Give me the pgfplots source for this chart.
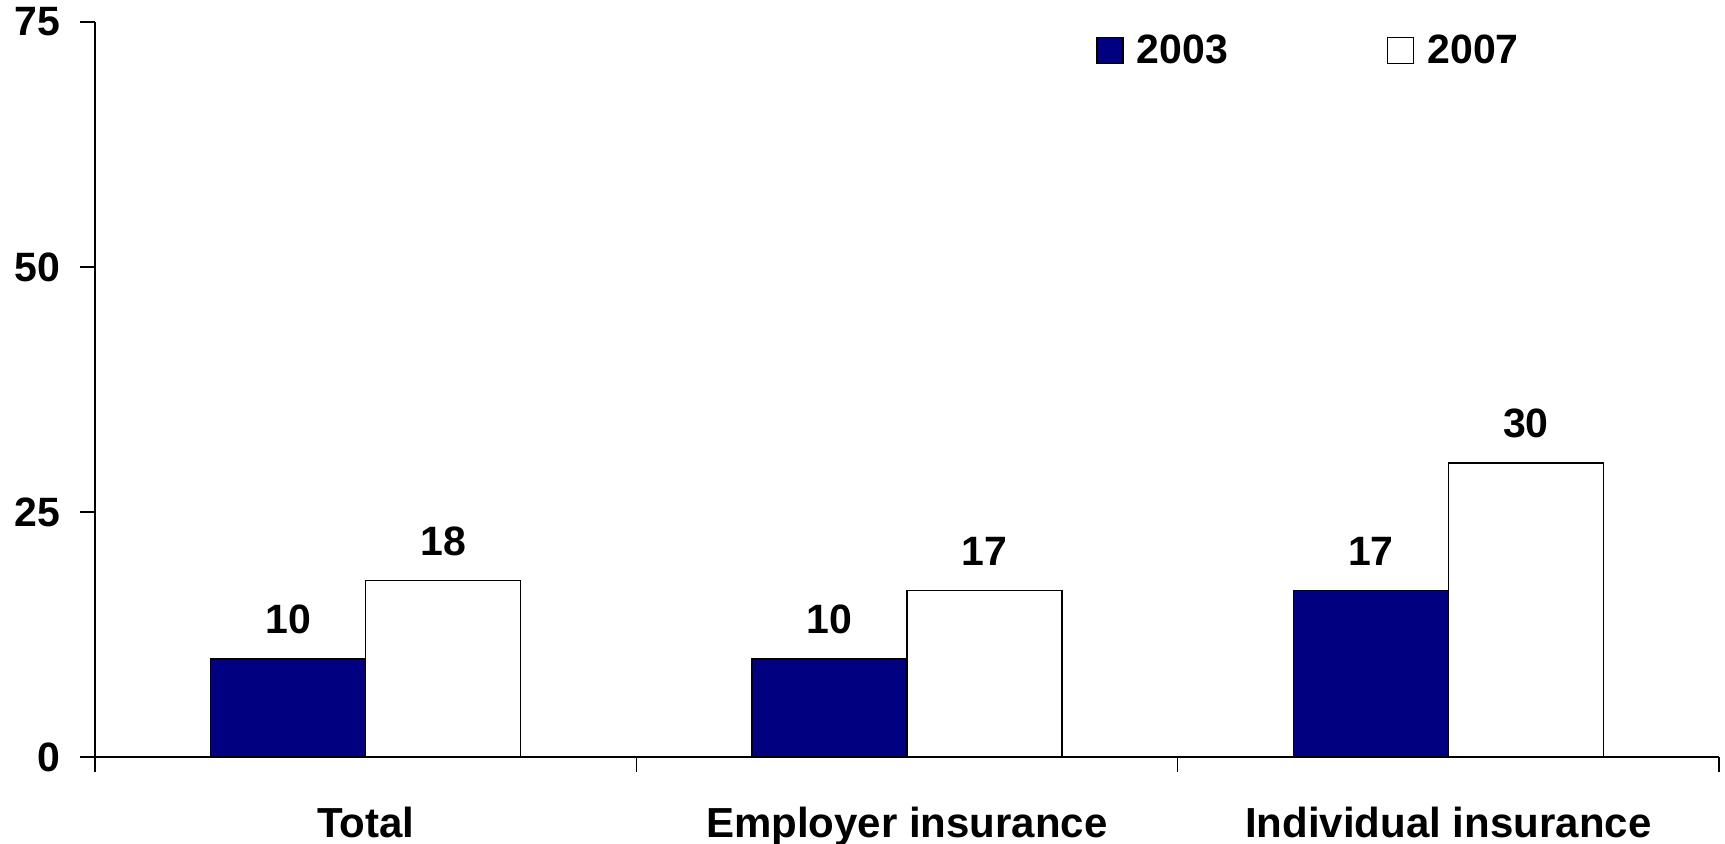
\documentclass[border=0pt]{standalone}
\usepackage{fontspec}
\setmainfont{Liberation Sans}
\usepackage{pgfplots}
\pgfplotsset{compat=1.18}
\definecolor{navybar}{RGB}{0,0,128}

\begin{document}
\begin{tikzpicture}[font=\bfseries\fontsize{20.5}{24}\selectfont]
\begin{axis}[
  scale only axis, width=812pt, height=367.5pt,
  ymin=0, ymax=75, ytick={0,25,50,75},
  xmin=-0.5, xmax=2.5,
  axis lines*=left,
  axis line style={line width=0.7pt},
  every tick/.style={line width=0.7pt, black},
  tick align=outside, major tick length=7.5pt,
  xtick={-0.5,0.5,1.5,2.5}, xticklabels={},
  extra x ticks={0,1,2},
  extra x tick labels={Total, Employer insurance, Individual insurance},
  extra x tick style={major tick length=0pt},
  xticklabel style={anchor=base, inner sep=0pt, yshift=-40.5pt,
    font=\bfseries\fontsize{21}{24}\selectfont},
  yticklabel style={anchor=east, inner sep=0pt, xshift=-9.5pt},
  /pgf/number format/assume math mode=true,
  legend columns=2,
  legend style={draw=none, fill=none, inner sep=0pt,
    at={(0.6164,0.983)}, anchor=north west,
    nodes={inner sep=0pt},
    /tikz/every odd column/.append style={column sep=6.5pt},
    /tikz/every even column/.append style={column sep=79.5pt}},
  nodes near coords,
  nodes near coords style={anchor=base, inner sep=0pt, yshift=12.5pt},
]
\addplot[ybar, bar width=77.55pt, bar shift=-38.77pt, fill=navybar, draw=black, line width=0.7pt,
  every node near coord/.append style={xshift=-38.77pt},
  legend image code/.code={\draw[fill=navybar, draw=black, line width=0.7pt] (0pt,-6.5pt) rectangle (13pt,6.5pt);}]
  coordinates {(0,10) (1,10) (2,17)};
\addlegendentry{2003}
\addplot[ybar, bar width=77.55pt, bar shift=38.77pt, fill=white, draw=black, line width=0.7pt,
  every node near coord/.append style={xshift=38.77pt},
  legend image code/.code={\draw[fill=white, draw=black, line width=0.7pt] (0pt,-6.5pt) rectangle (13pt,6.5pt);}]
  coordinates {(0,18) (1,17) (2,30)};
\addlegendentry{2007}
\coordinate (ll) at (rel axis cs:0,0);
\coordinate (ur) at (rel axis cs:1,1);
\end{axis}
\pgfresetboundingbox
\path ([shift={(-47.5pt,-43.5pt)}]ll) rectangle ([shift={(3pt,11pt)}]ur);
\end{tikzpicture}
\end{document}
